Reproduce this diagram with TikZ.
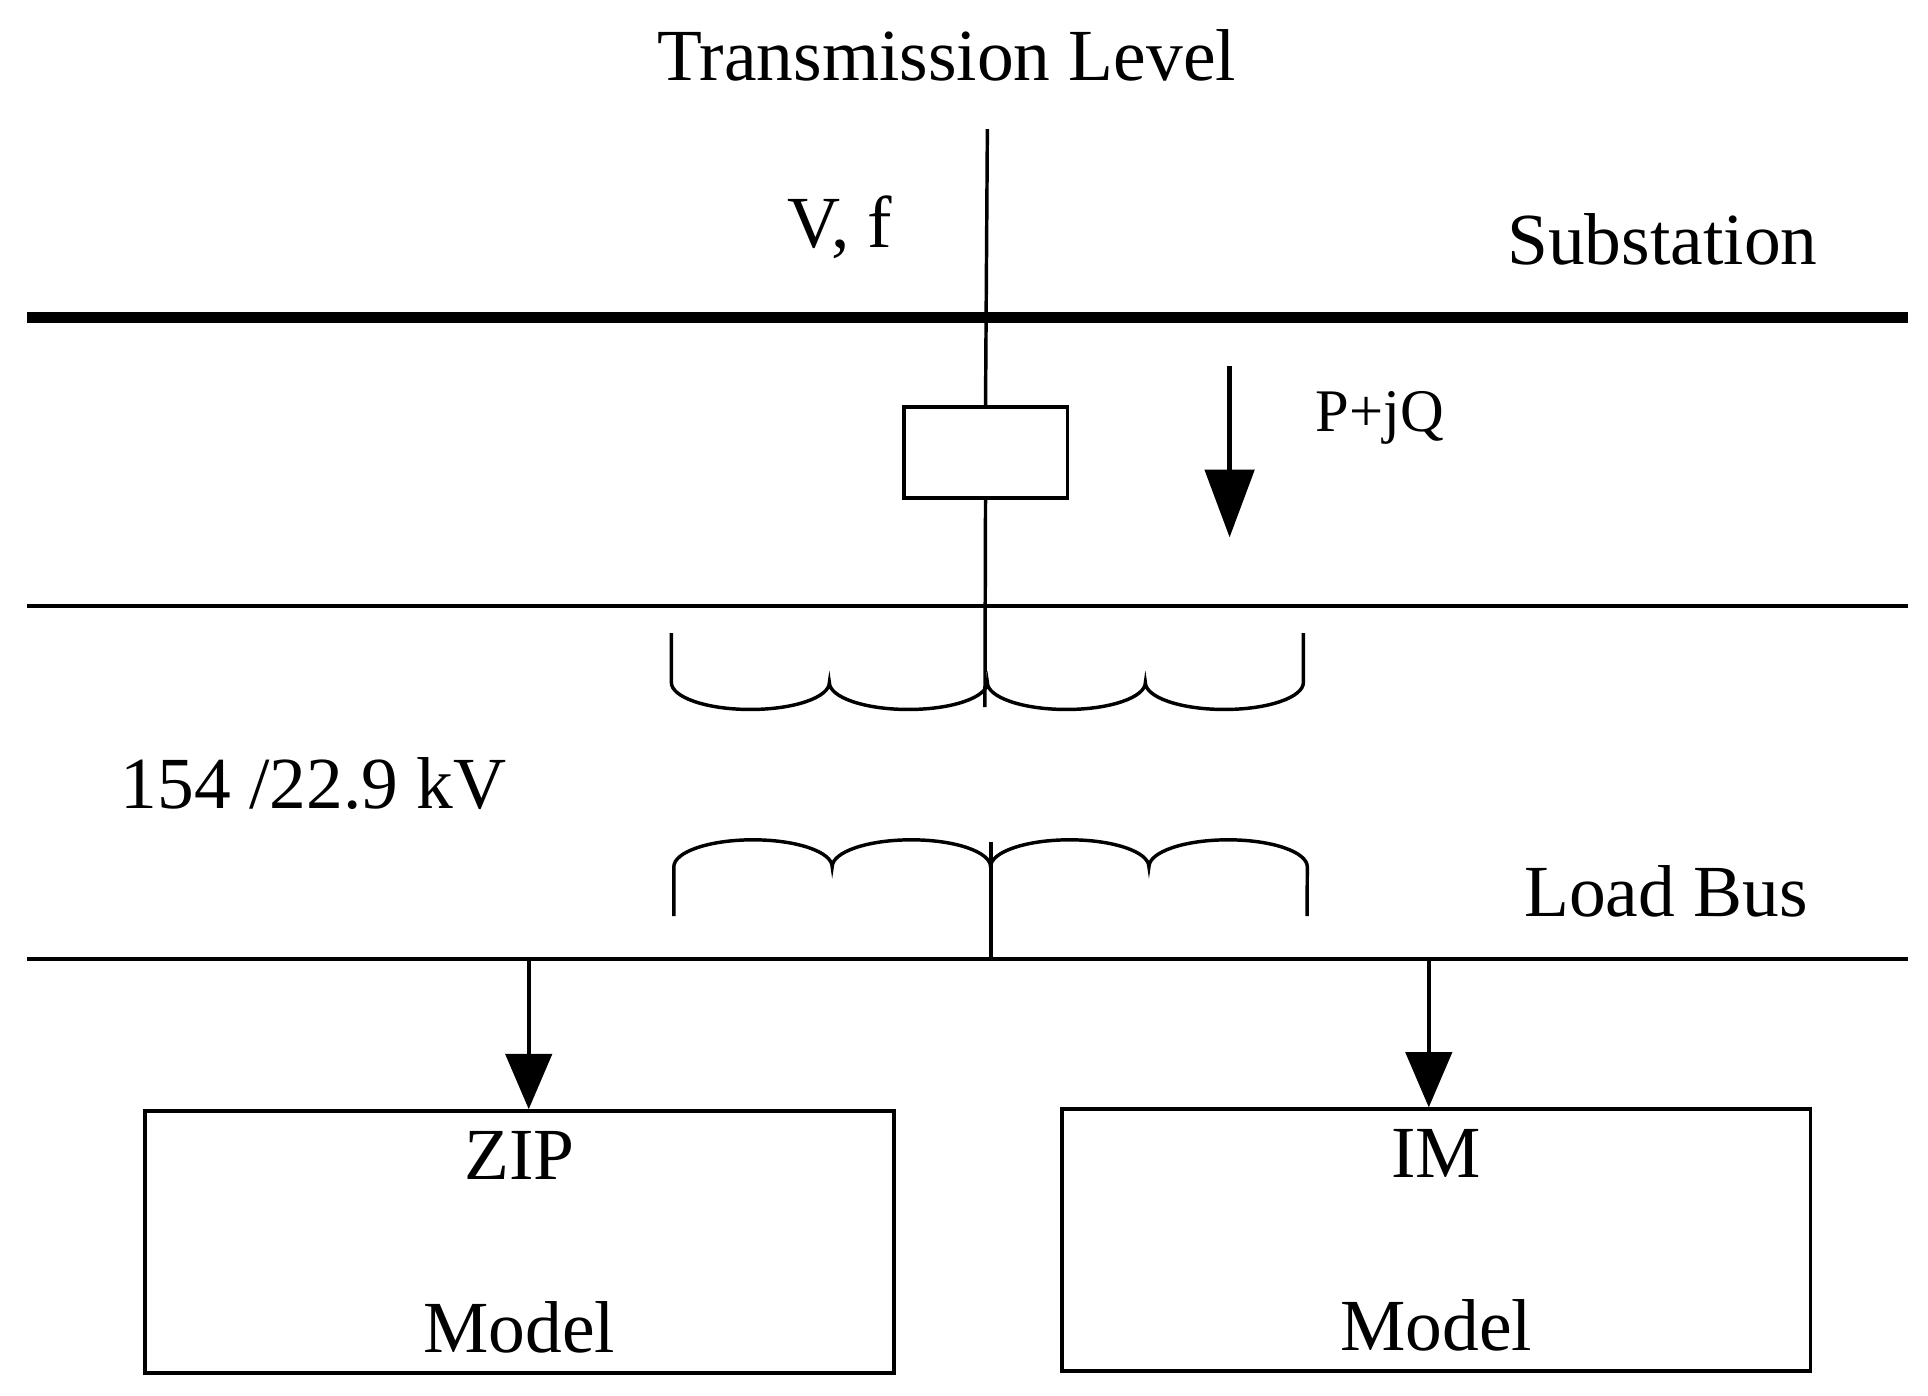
\documentclass[tikz,border=0pt]{standalone}
\usepackage{fontspec}
\setmainfont{Liberation Serif}
\usetikzlibrary{positioning,arrows.meta}

\begin{document}
\begin{tikzpicture}[x=0.02cm,y=-0.02cm,
    lbl/.style={inner sep=0pt,font=\fontsize{34}{40}\selectfont},
    bus/.style={line width=1.6pt},
    model/.style={draw,line width=1.6pt,minimum width=12.18cm,minimum height=4.26cm,align=center,font=\fontsize{34}{80}\selectfont},
    flow/.style={line width=2pt,-{Triangle[length=0.9cm,width=0.75cm]}}]
    \useasboundingbox (0,0) rectangle (1568,1135);

    %texts
    \node[lbl] (trans) at (770,45) {Transmission Level};
    \node[lbl] (vf) at (683,185) {V, f};
    \node[lbl] (sub) at (1352,195) {Substation};
    \node[lbl,font=\fontsize{28}{34}\selectfont] (pq) at (1122,340) {P+jQ};
    \node[lbl] (kv) at (255,637) {154 /22.9 kV};
    \node[lbl] (load) at (1355,725) {Load Bus};

    %buses
    \draw[line width=5pt] (22,258) -- (1552,258);
    \draw[bus] (22,493) -- (1552,493);
    \draw[bus] (22,780) -- (1552,780);

    %breaker and feeder
    \node[draw,line width=1.6pt,minimum width=2.66cm,minimum height=1.48cm,inner sep=0pt] (brk) at (801.5,368) {};
    \draw[bus] (803,105) -- (brk.north);
    \draw[bus] (brk.south) -- (801,575);
    \draw[bus] (806,685) -- (806,780);

    %transformer windings
    \draw[bus] (546,515) -- (546,555)
        \foreach \i in {1,...,4} {arc[start angle=180,end angle=0,x radius=64.25,y radius=22]}
        -- (1060,515);
    \draw[bus] (548,745) -- (548,705)
        \foreach \i in {1,...,4} {arc[start angle=180,end angle=360,x radius=64.4,y radius=22]}
        -- (1063,745);

    %power flow arrow
    \coordinate (pqtop) at (1000,298);
    \coordinate (pqtip) at (1000,437);
    \draw[line width=2pt,-{Triangle[length=1.1cm,width=0.8cm]}] (pqtop) -- (pqtip);

    %load models
    \node[model] (zip) at (422.5,1010) {ZIP\\Model};
    \node[model] (im) at (1168,1008.5) {IM\\Model};
    \coordinate (zipb) at (430,780);
    \coordinate (imb) at (1162,780);
    \draw[flow] (zipb) -- (zipb |- zip.north);
    \draw[flow] (imb) -- (imb |- im.north);
\end{tikzpicture}
\end{document}
